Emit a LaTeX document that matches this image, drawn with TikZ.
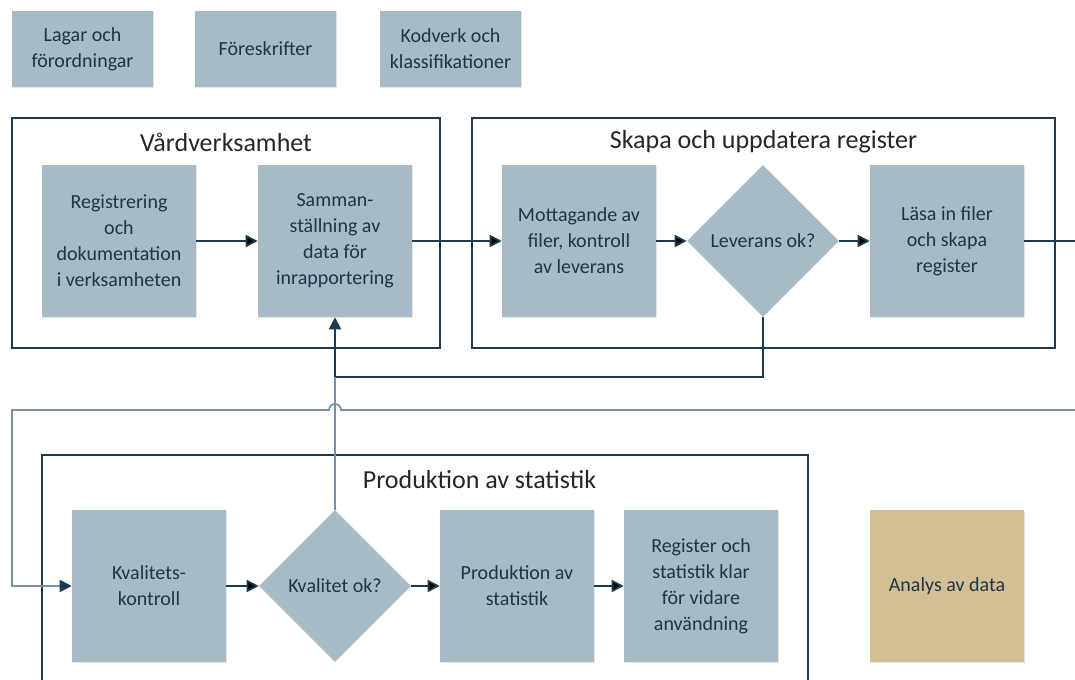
\documentclass[tikz,border=0pt]{standalone}
\usepackage{fontspec}
\setmainfont{Carlito}
\usetikzlibrary{%
  positioning
 ,arrows.meta
 ,calc
 ,shapes
 ,shadows
}
\definecolor{boxfill}{HTML}{A7BBC7}
\definecolor{sandfill}{HTML}{D2BF95}
\definecolor{ink}{HTML}{1F3447}
\definecolor{wire}{HTML}{1B3A52}
\definecolor{wirelt}{HTML}{7890A1}
\definecolor{frame}{HTML}{20394D}
\tikzstyle{flow}=[x=0.75pt,y=-0.75pt,node distance=138pt,on grid,text=ink,
  font=\fontsize{15}{19.5}\selectfont,>={Triangle[length=9pt,width=9pt]}]
\tikzstyle{box}=[rectangle,fill=boxfill,align=center,inner sep=2pt,
  minimum width=115.5pt,minimum height=114pt,
  drop shadow={shadow xshift=1pt,shadow yshift=-1pt,fill=black,opacity=0.10}]
\tikzstyle{law}=[box,minimum width=105.75pt,minimum height=57pt]
\tikzstyle{dec}=[diamond,fill=boxfill,align=center,inner sep=0pt,shape aspect=1,
  minimum width=114pt,minimum height=114pt]
\tikzstyle{ctr}=[rectangle,draw=frame,line width=1.1pt]
\tikzstyle{ttl}=[font=\fontsize{19.5}{23}\selectfont,text=black!85]
\tikzstyle{wire}=[draw=wire,line width=1.3pt]
\tikzstyle{wirelt}=[draw=wirelt,line width=1.3pt,-{Triangle[length=9pt,width=9pt,color=wire]}]

\begin{document}
\begin{tikzpicture}[flow]
      \useasboundingbox (0,0) rectangle (1075,680);
      \clip (0,0) rectangle (1075,680);
      % frames
      \node[ctr,minimum width=321pt,minimum height=172.5pt] (c_0) at (226,233) {};
      \node[ctr,minimum width=437.25pt,minimum height=172.5pt] (c_1) at (763.5,233) {};
      \node[ctr,minimum width=574.5pt,minimum height=183.75pt] (c_2) at (425,577.5) {};
      \node[ttl] (h_0) at (226,142) {Vårdverksamhet};
      \node[ttl] (h_1) at (763.5,142) {Skapa och uppdatera register};
      \node[ttl] (h_2) at (479.5,480) {Produktion av statistik};
      % top row
      \node[law] (t_0) at (82.5,49) {Lagar och\\förordningar};
      \node[law] (t_1) [right of=t_0,node distance=137.25pt] {Föreskrifter};
      \node[law] (t_2) [right of=t_1,node distance=138.75pt] {Kodverk och\\klassifikationer};
      % first row
      \node[box] (a_0) at (119,241) {Registrering\\och\\dokumentation\\i verksamheten};
      \node[box] (a_1) [right of=a_0,node distance=162pt] {Samman-\\ställning av\\data för\\inrapportering};
      \node[box] (a_2) [right of=a_1,node distance=183pt] {Mottagande av\\filer, kontroll\\av leverans};
      \node[dec] (a_3) [right of=a_2] {Leverans ok?};
      \node[box] (a_4) [right of=a_3] {Läsa in filer\\och skapa\\register};
      % second row
      \node[box] (b_0) at (149,586) {Kvalitets-\\kontroll};
      \node[dec] (b_1) [right of=b_0,node distance=139.5pt] {Kvalitet ok?};
      \node[box] (b_2) [right of=b_1,node distance=136.5pt] {Produktion av\\statistik};
      \node[box] (b_3) [right of=b_2] {Register och\\statistik klar\\för vidare\\användning};
      \node[box,fill=sandfill] (b_4) [right of=b_3,node distance=184.5pt] {Analys av data};
      % loose ends
      \coordinate (j_0) at (335,377);
      \coordinate (e_0) at (1075,241);
      \coordinate (e_1) at (1075,410);
      \coordinate (k_0) at (12,410);
      \coordinate (p_0) at (335,410);
      \path[wire,->]
        (a_0) edge (a_1)
        (a_1) edge (a_2)
        (a_2) edge (a_3)
        (a_3) edge (a_4)
        (b_0) edge (b_1)
        (b_1) edge (b_2)
        (b_2) edge (b_3);
      \draw[wire] (a_4) -- (e_0);
      \draw[wire,->] (a_3.south) |- (j_0) -- (a_1.south);
      \draw[wirelt,-] (b_1.north) -- (j_0);
      \draw[wirelt] (e_1) -- ($(p_0)+(6,0)$) arc[start angle=0,end angle=180,radius=4.5pt]
        -- (k_0) |- (b_0);
    \end{tikzpicture}
\end{document}
